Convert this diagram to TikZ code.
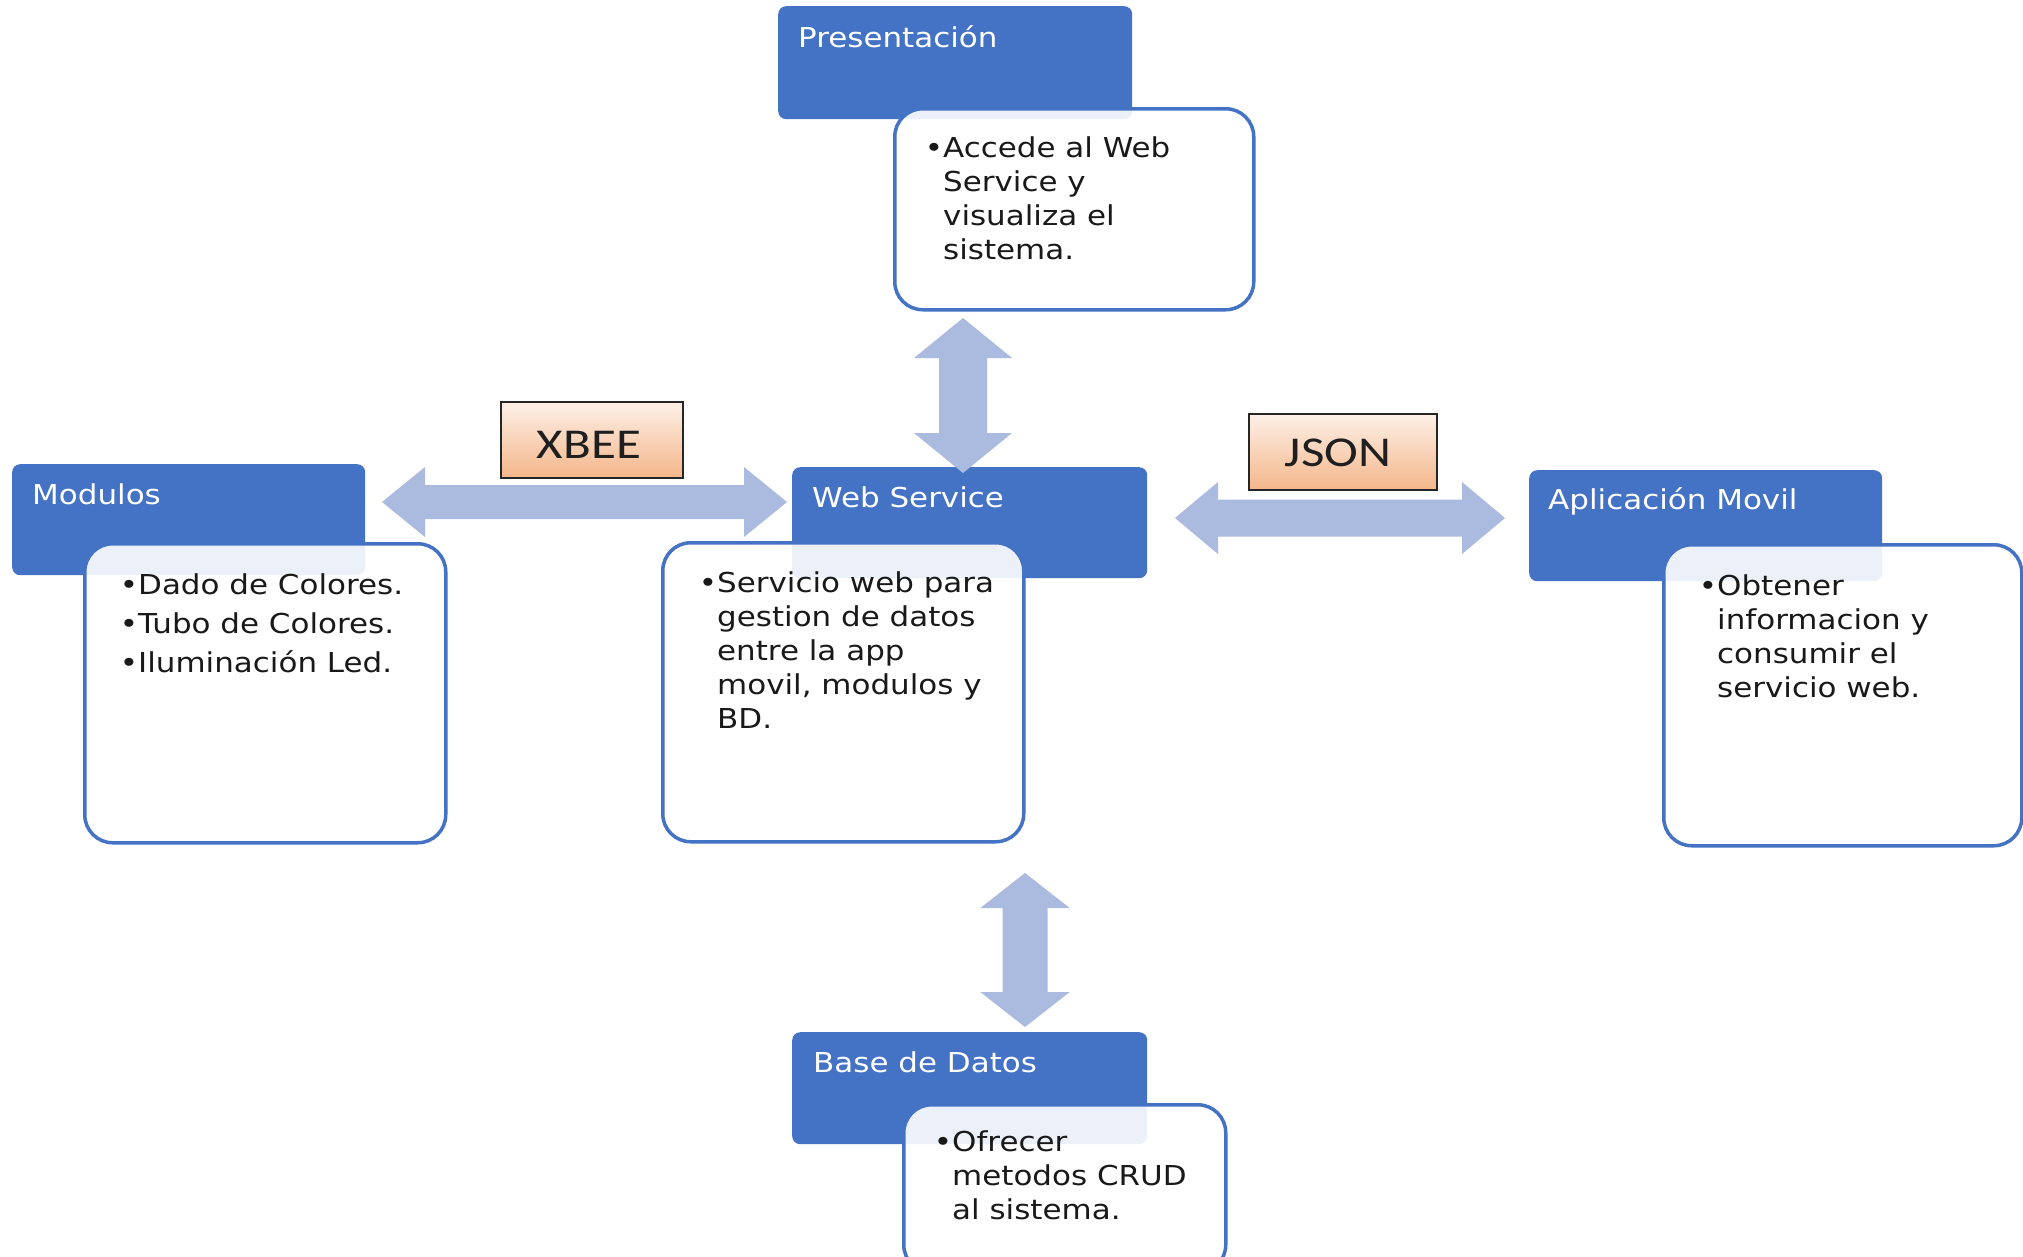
\documentclass[tikz,border=0pt]{standalone}
\usepackage{fontspec}
\usetikzlibrary{calc}
\newfontfamily\boxfont[FakeStretch=1.13]{DejaVu Sans}
\newfontfamily\tagfont[FakeStretch=1.2]{Carlito}
\definecolor{hdrblue}{HTML}{4472C4}
\definecolor{arrowblue}{RGB}{171,186,223}
\definecolor{peachtop}{RGB}{253,240,231}
\definecolor{peachbot}{RGB}{244,182,138}

\tikzset{
  header/.style={draw=none, fill=hdrblue, rounded corners=8pt, anchor=north west, inner sep=0pt},
  bodybox/.style={draw=hdrblue, line width=3.5pt, fill=white, fill opacity=0.9,
    rounded corners=28pt, anchor=north west, inner sep=0pt},
  htext/.style={anchor=base west, inner sep=0pt, text=white,
    font=\boxfont\fontsize{27.4}{31}\selectfont},
  % multi-line texts: the base anchor sits on the baseline of the last line
  btext/.style={anchor=base west, inner sep=0pt, align=left, text=black!90,
    font=\boxfont\fontsize{27.4}{34.2}\selectfont},
  tagbox/.style={draw=black!85, line width=2pt, top color=peachtop, bottom color=peachbot,
    anchor=north west, inner sep=0pt},
  tagtext/.style={anchor=base, inner sep=0pt, text=black!88,
    font=\tagfont\fontsize{42.5}{50}\selectfont},
  arrowfill/.style={fill=arrowblue}
}

% horizontal block arrow with a head at both ends: tips, head length, head half-height, shaft half-height
\newcommand\dblarrowH[5]{%
  \fill[arrowfill] let \p1=(#1), \p2=(#2) in
    (\p1) -- ({\x1+#3pt},{\y1+#4pt}) -- ({\x1+#3pt},{\y1+#5pt}) -- ({\x2-#3pt},{\y1+#5pt})
    -- ({\x2-#3pt},{\y1+#4pt}) -- (\p2) -- ({\x2-#3pt},{\y1-#4pt}) -- ({\x2-#3pt},{\y1-#5pt})
    -- ({\x1+#3pt},{\y1-#5pt}) -- ({\x1+#3pt},{\y1-#4pt}) -- cycle;}
% vertical block arrow with a head at both ends: top tip, bottom tip, head length, head half-width, shaft half-width
\newcommand\dblarrowV[5]{%
  \fill[arrowfill] let \p1=(#1), \p2=(#2) in
    (\p1) -- ({\x1+#4pt},{\y1-#3pt}) -- ({\x1+#5pt},{\y1-#3pt}) -- ({\x1+#5pt},{\y2+#3pt})
    -- ({\x1+#4pt},{\y2+#3pt}) -- (\p2) -- ({\x1-#4pt},{\y2+#3pt}) -- ({\x1-#5pt},{\y2+#3pt})
    -- ({\x1-#5pt},{\y1-#3pt}) -- ({\x1-#4pt},{\y1-#3pt}) -- cycle;}

\begin{document}
\begin{tikzpicture}[x=1pt, y=-1pt]
\useasboundingbox (0,0) rectangle (2023,1256);
\fill[white] (0,0) rectangle (2023,1256);

% title bars
\node[header, minimum width=354pt, minimum height=113pt] (presH) at (778,6) {};
\node[header, minimum width=353pt, minimum height=111pt] (modH) at (12,464) {};
\node[header, minimum width=355pt, minimum height=111pt] (webH) at (792,467) {};
\node[header, minimum width=353pt, minimum height=111pt] (appH) at (1529,470) {};
\node[header, minimum width=355pt, minimum height=112pt] (dbH) at (792,1032) {};

% description boxes
\node[bodybox, minimum width=359pt, minimum height=201pt] (presB) at (893,107) {};
\node[bodybox, minimum width=361pt, minimum height=299pt] (modB) at (83,542) {};
\node[bodybox, minimum width=361pt, minimum height=299pt] (webB) at (661,541) {};
\node[bodybox, minimum width=358pt, minimum height=301pt] (appB) at (1662,543) {};
\node[bodybox, minimum width=322pt, minimum height=168pt] (dbB) at (902,1103) {};

% titles
\node[htext] (presT) at (798,47) {Presentación};
\node[htext] (modT) at (32,504) {Modulos};
\node[htext] (webT) at (812,507) {Web Service};
\node[htext] (appT) at (1548,509) {Aplicación Movil};
\node[htext] (dbT) at (813,1072) {Base de Datos};

% descriptions (placed by the baseline of their last line)
\node[btext] (presD) at (924.7,259.6) {•Accede al Web\\\hphantom{•}Service y\\\hphantom{•}visualiza el\\\hphantom{•}sistema.};
\node[btext] (modD) at (119.7,672) {•Dado de Colores.\\[4.8pt]•Tubo de Colores.\\[4.8pt]•Iluminación Led.};
\node[btext] (webD) at (698.7,728.8) {•Servicio web para\\\hphantom{•}gestion de datos\\\hphantom{•}entre la app\\\hphantom{•}movil, modulos y\\\hphantom{•}BD.};
\node[btext] (appD) at (1698.7,697.6) {•Obtener\\\hphantom{•}informacion y\\\hphantom{•}consumir el\\\hphantom{•}servicio web.};
\node[btext] (dbD) at (933.7,1219.4) {•Ofrecer\\\hphantom{•}metodos CRUD\\\hphantom{•}al sistema.};

% block arrows between the layers
\coordinate (xbL) at (382,502);
\coordinate (xbR) at (787,502);
\coordinate (jsL) at (1175,518);
\coordinate (jsR) at (1505,518);
\coordinate (prTop) at (963,318);
\coordinate (prBot) at (963,473);
\coordinate (dbTop) at (1025,873);
\coordinate (dbBot) at (1025,1027);
\dblarrowH{xbL}{xbR}{43}{35}{17}
\dblarrowH{jsL}{jsR}{43}{36}{18.5}
\dblarrowV{prTop}{prBot}{40}{49}{24}
\dblarrowV{dbTop}{dbBot}{35}{44.7}{22.5}

% protocol tags
\node[tagbox, minimum width=182pt, minimum height=76pt] (xbee) at (500,401) {};
\node[tagtext] (xbeeT) at (589,458) {XBEE};
\node[tagbox, minimum width=188pt, minimum height=76pt] (json) at (1248,413) {};
\node[tagtext] (jsonT) at (1338,466) {JSON};
\end{tikzpicture}
\end{document}
